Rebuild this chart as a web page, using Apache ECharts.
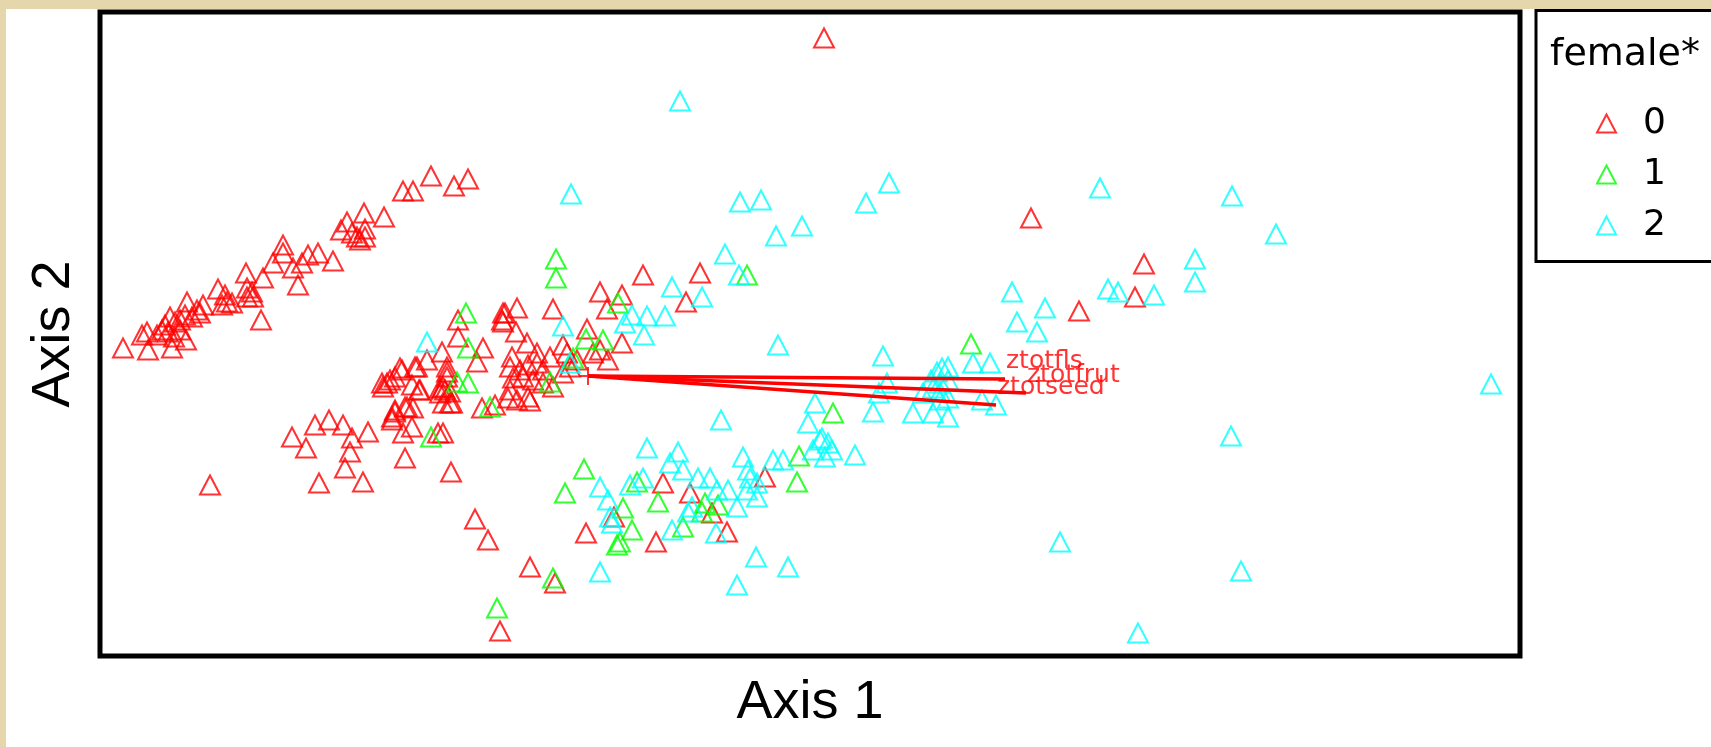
<!DOCTYPE html>
<html>
<head>
<meta charset="utf-8">
<title>female* ordination</title>
<script src="https://cdn.jsdelivr.net/npm/echarts@6/dist/echarts.min.js"></script>
<style>
    html, body { margin: 0; padding: 0; width: 1711px; height: 747px; overflow: hidden; background: #e6d6ab; }
    #paper { position: absolute; left: 6px; top: 9px; right: 0; bottom: 0; background: #fff; }
    #chart { position: absolute; left: 0; top: 0; width: 1711px; height: 747px; }
</style>
</head>
<body>
<div id="paper"></div>
<div id="chart"></div>
<script>
// axis 1 / axis 2 scores
const groupNames = ['0', '1', '2'];
const groupColors = ['#ff0000', '#00ff00', '#00ffff'];

const female0 = [
    [-1.57, 2.00], [-1.85, 1.85], [-1.75, 1.85], [-1.34, 1.90], [-1.20, 1.97],
    [-2.24, 1.63], [-2.04, 1.59], [-2.41, 1.54], [-2.47, 1.46], [-2.36, 1.43], [-2.31, 1.39], [-2.23, 1.39], [-2.23, 1.47], [-2.28, 1.36],
    [-3.05, 1.31], [-3.05, 1.23], [-3.15, 1.13], [-2.95, 1.08], [-2.86, 1.13], [-2.80, 1.21], [-2.70, 1.23], [-2.55, 1.15], [-2.90, 0.91],
    [-3.42, 1.03], [-3.25, 0.98], [-3.41, 0.88], [-3.36, 0.84], [-3.41, 0.79], [-3.35, 0.79],
    [-3.70, 0.87], [-3.63, 0.81], [-3.61, 0.74], [-3.66, 0.71], [-3.56, 0.73], [-3.85, 0.71], [-4.01, 0.74], [-3.91, 0.66], [-3.27, 0.56],
    [-3.96, 0.59], [-4.03, 0.61], [-4.08, 0.56], [-4.13, 0.54], [-4.18, 0.59], [-4.23, 0.51], [-4.26, 0.46], [-4.20, 0.44], [-4.08, 0.46],
    [-4.02, 0.36], [-4.14, 0.39], [-4.31, 0.41], [-4.41, 0.44], [-4.46, 0.41], [-4.16, 0.28], [-4.40, 0.26], [-4.65, 0.28], [-3.88, 0.63],
    [-3.78, -1.09], [-2.96, -0.61], [-2.82, -0.72], [-2.73, -0.49], [-2.59, -0.44], [-2.45, -0.49], [-2.36, -0.62], [-2.38, -0.76],
    [-2.43, -0.92], [-2.69, -1.07], [-2.25, -1.06], [-2.20, -0.56], [-2.06, -0.07], [-1.96, -0.41], [-1.93, -0.34], [-1.85, -0.57],
    [-1.83, -0.82], [-1.76, -0.51], [-1.81, -0.31], [-1.75, -0.32], [-1.93, -0.01], [-1.86, 0.06], [-1.73, 0.09], [-1.76, -0.09],
    [-1.69, -0.14], [-1.61, 0.16], [-1.46, 0.24], [-1.41, 0.04], [-1.48, -0.12], [-1.43, -0.14], [-1.38, -0.16], [-1.45, -0.27],
    [-1.36, -0.27], [-1.50, -0.57], [-1.45, -0.57], [-1.37, -0.96], [-1.30, 0.56], [-1.30, 0.39], [-1.05, 0.28], [-1.11, 0.14],
    [-1.06, -0.32], [-0.93, -0.29], [-0.85, 0.63], [-0.85, 0.54], [-0.71, 0.68], [-1.88, 0.08], [-1.98, -0.04], [-2.01, -0.07],
    [-2.05, -0.11], [-1.83, -0.31], [-1.93, -0.36], [-1.96, -0.44], [-1.71, 0.09], [-1.68, -0.14], [-1.41, 0.09], [-1.41, -0.01],
    [-1.45, -0.11], [-1.48, -0.17], [-1.38, -0.27],
    [0.55, 1.01], [1.12, 1.03], [0.98, 0.74], [0.12, 0.84], [0.34, 0.81], [0.19, 0.67], [-0.35, 0.67], [-0.01, 0.47], [0.34, 0.33],
    [-0.83, 0.63], [-0.86, 0.56], [-0.72, 0.44], [-0.61, 0.33], [-0.76, 0.19], [-0.51, 0.23], [-0.25, 0.31], [-0.38, 0.19],
    [-0.21, 0.23], [-0.11, 0.16], [0.05, 0.23], [0.12, 0.26], [0.20, 0.16], [-0.78, 0.09], [-0.68, 0.06], [-0.60, 0.11],
    [-0.51, 0.13], [-0.45, 0.06], [-0.75, -0.02], [-0.65, -0.01], [-0.55, -0.04], [-0.45, -0.07], [-0.35, -0.11], [-0.25, 0.03],
    [-0.18, 0.09], [-0.78, -0.14], [-0.80, -0.22], [-0.60, -0.21], [-0.71, -0.24],
    [-1.13, -1.43], [-1.00, -1.64], [-0.58, -1.91], [-0.33, -2.07], [-0.88, -2.55], [-0.02, -1.57], [0.26, -1.41], [0.75, -1.07],
    [1.02, -1.17], [1.24, -1.37], [1.39, -1.56], [0.68, -1.66], [1.77, -1.01], [-0.58, -0.25],
    [2.36, 3.38], [4.43, 1.58], [5.56, 1.12], [5.47, 0.79], [4.91, 0.65]
];

const female1 = [
    [-0.32, 1.17], [-0.32, 0.98], [0.30, 0.73], [-1.22, 0.63], [-1.20, 0.28], [-0.02, 0.37], [0.15, 0.36], [-1.31, -0.06],
    [-1.20, -0.07], [-0.38, -0.06], [-0.98, -0.31], [-1.57, -0.61], [1.59, 1.01], [2.45, -0.37], [2.11, -0.80], [2.09, -1.06],
    [-0.04, -0.93], [-0.23, -1.17], [0.49, -1.06], [0.70, -1.26], [1.17, -1.27], [1.30, -1.29], [1.14, -1.36], [0.35, -1.32],
    [0.44, -1.54], [0.29, -1.69], [0.32, -1.66], [0.95, -1.51], [-0.35, -2.02], [-0.91, -2.32], [3.83, 0.32], [-0.15, 0.18]
];

const female2 = [
    [-1.61, 0.34], [-0.25, 0.50], [-0.18, 0.13], [0.37, 0.53], [0.44, 0.61], [0.59, 0.60], [0.77, 0.60], [0.56, 0.41],
    [0.84, 0.89], [1.14, 0.79], [1.37, 1.22], [1.51, 1.01], [1.88, 1.40], [2.14, 1.50], [1.90, 0.31], [1.33, -0.44],
    [2.27, -0.27], [2.20, -0.47], [2.32, -0.64], [2.40, -0.67], [2.25, -0.74], [2.37, -0.81], [2.44, -0.74], [2.34, -0.62],
    [0.59, -0.72], [0.90, -0.76], [0.82, -0.87], [0.95, -0.94], [1.10, -1.02], [1.22, -1.02], [1.55, -0.81], [1.85, -0.84],
    [1.95, -0.84], [1.60, -0.94], [1.62, -1.02], [1.69, -1.07], [1.59, -1.14], [1.69, -1.21], [1.49, -1.31], [1.40, -1.14],
    [1.29, -1.14], [0.12, -1.11], [0.42, -1.09], [0.55, -1.02], [0.20, -1.24], [0.22, -1.41], [0.24, -1.47], [1.00, -1.36],
    [0.84, -1.54], [1.28, -1.57], [1.04, -1.31], [2.67, -0.79], [0.12, -1.96], [1.68, -1.81], [2.00, -1.91], [1.49, -2.09],
    [2.85, -0.36], [3.25, -0.37], [3.45, -0.37],
    [0.92, 2.75], [-0.17, 1.82], [1.52, 1.74], [1.73, 1.76], [2.78, 1.73], [3.01, 1.93], [5.12, 1.88], [6.44, 1.80],
    [6.88, 1.42], [6.07, 1.17], [6.07, 0.94], [5.20, 0.87], [5.30, 0.84], [5.66, 0.81], [4.24, 0.84], [4.57, 0.68],
    [4.29, 0.54], [4.49, 0.44],
    [2.95, 0.20], [3.85, 0.13], [4.02, 0.13], [3.49, 0.04], [3.54, 0.08], [3.60, 0.09], [3.43, -0.04], [3.52, -0.07],
    [3.60, -0.04], [2.99, -0.07], [2.91, -0.17], [3.35, -0.17], [3.45, -0.12], [3.52, -0.16], [3.52, -0.24], [3.60, -0.22],
    [3.94, -0.24], [4.08, -0.29], [3.60, -0.41],
    [6.43, -0.60], [9.03, -0.08], [4.72, -1.66], [6.53, -1.95], [5.50, -2.57]
];

// joint plot vectors
const vectorNames = ['ztotfls', 'ztotfrut', 'ztotseed'];
const vectorX = [4.17, 4.38, 4.08];
const vectorY = [-0.03, -0.17, -0.29];

const groups = [female0, female1, female2];
const chart = echarts.init(document.getElementById('chart'));

const pointSeries = groups.map((d, i) => ({
    name: groupNames[i],
    type: 'scatter',
    data: d,
    symbol: 'triangle',
    symbolSize: [20, 19],
    itemStyle: { color: 'rgba(0,0,0,0)', borderColor: groupColors[i], borderWidth: 2 },
    emphasis: { disabled: true },
    silent: true,
    z: 2,
}));

const vectorSeries = vectorNames.map((n, i) => ({
    name: n,
    type: 'line',
    data: [[0, 0], [vectorX[i], vectorY[i]]],
    symbol: 'none',
    lineStyle: { color: '#ff0000', width: 3.5 },
    silent: true,
    z: 3,
}));

const titleFont = { fontSize: 54, fontFamily: 'Liberation Sans', color: '#000', verticalAlign: 'middle' };

const option = {
    backgroundColor: 'transparent',
    animation: false,
    grid: {
        left: 100, top: 12, right: 191, bottom: 91,
        show: true, borderColor: '#000', borderWidth: 5, backgroundColor: 'transparent',
    },
    xAxis: {
        type: 'value', min: -4.88, max: 9.32,
        axisLine: { show: false, onZero: false }, axisTick: { show: false },
        axisLabel: { show: false }, splitLine: { show: false },
        name: 'Axis 1', nameLocation: 'middle', nameGap: 47,
        nameTextStyle: titleFont,
    },
    yAxis: {
        type: 'value', min: -2.80, max: 3.64,
        axisLine: { show: false, onZero: false }, axisTick: { show: false },
        axisLabel: { show: false }, splitLine: { show: false },
        name: 'Axis 2', nameLocation: 'middle', nameGap: 46, nameRotate: 90,
        nameTextStyle: titleFont,
    },
    legend: {
        orient: 'vertical',
        left: 1591, top: 93,
        itemWidth: 19, itemHeight: 18, itemGap: 0,
        selectedMode: false,
        data: groupNames.map((n, i) => ({
            name: n, icon: 'triangle',
            itemStyle: { color: 'rgba(0,0,0,0)', borderColor: groupColors[i], borderWidth: 2 },
        })),
        textStyle: { fontSize: 36, fontFamily: 'DejaVu Sans', color: '#000', lineHeight: 51, padding: [0, 0, 0, 22] },
        z: 5,
    },
    graphic: [
        {
            type: 'rect', z: 1,
            shape: { x: 1536, y: 10.5, width: 220, height: 251 },
            style: { fill: '#fff', stroke: '#000', lineWidth: 3 },
        },
        {
            type: 'text', z: 2, x: 1550, y: 55,
            style: { text: 'female*', fontSize: 38, fontFamily: 'DejaVu Sans', fill: '#000', verticalAlign: 'middle' },
        },
    ],
    series: [
        ...pointSeries,
        ...vectorSeries,
        {
            // centroid cross
            type: 'scatter',
            data: [[0, 0]],
            symbol: 'path://M9,0L9,18M0,9L18,9',
            symbolSize: 18,
            itemStyle: { color: 'none', borderColor: '#ff0000', borderWidth: 2 },
            silent: true,
            z: 3,
        },
        {
            type: 'scatter',
            data: vectorNames.map((n, i) => ({ name: n, value: [vectorX[i], vectorY[i]] })),
            symbolSize: 0,
            label: {
                show: true, formatter: '{b}', position: 'right', distance: 1, offset: [0, -18],
                color: '#ff0000', fontSize: 25, fontFamily: 'DejaVu Sans',
            },
            silent: true,
            z: 4,
        },
    ],
};

chart.setOption(option);
</script>
</body>
</html>
